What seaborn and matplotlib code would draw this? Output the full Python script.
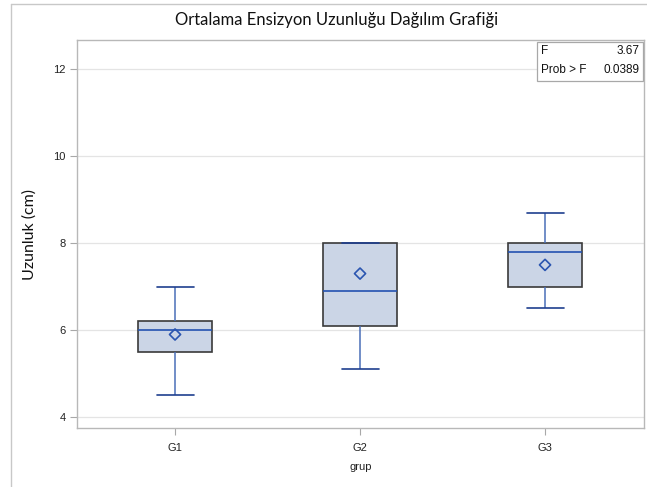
import numpy as np
import pandas as pd
import matplotlib
matplotlib.use("Agg")
import matplotlib.pyplot as plt
import seaborn as sns
from matplotlib.lines import Line2D
from matplotlib.patches import Rectangle

# ---- data ----
groups = ["G1", "G2", "G3"]
mins = [4.5, 5.1, 6.5]
q1s = [5.5, 6.1, 7.0]
medians = [6.0, 6.9, 7.8]
q3s = [6.2, 8.0, 8.0]
maxs = [7.0, 8.0, 8.7]
means = [5.9, 7.3, 7.5]
yticks = [4, 6, 8, 10, 12]
f_label = "F"
f_value = "3.67"
p_label = "Prob > F"
p_value = "0.0389"
title = "Ortalama Ensizyon Uzunluğu Dağılım Grafiği"
ylabel = "Uzunluk (cm)"
xlabel = "grup"

rows = []
for g, a, b, c, d, e in zip(groups, mins, q1s, medians, q3s, maxs):
    for v in (a, b, c, d, e):
        rows.append((g, v))
df = pd.DataFrame(rows, columns=["grup", "Uzunluk"])

sns.set_theme(style="white")
plt.rcParams["font.family"] = ["Liberation Sans", "DejaVu Sans"]

W, H = 647, 487
fig = plt.figure(figsize=(W / 100, H / 100), dpi=100)
ax = fig.add_axes([77 / W, 1 - 428 / H, (644 - 77) / W, (428 - 40) / H])

sns.boxplot(
    data=df, x="grup", y="Uzunluk", order=groups, whis=(0, 100), width=0.4,
    color="#CBD5E6", saturation=1, showfliers=False, ax=ax,
    linecolor="#3a3a3a", linewidth=1.1,
    boxprops=dict(edgecolor="#3a3a3a", linewidth=1.2),
    whiskerprops=dict(color="#4a6fb8", linewidth=1.1),
    capprops=dict(color="#1f3f8f", linewidth=1.2),
    medianprops=dict(color="#2452b0", linewidth=1.2, zorder=5),
)

ax.scatter(range(len(groups)), means, marker="D", s=32, facecolors="none",
           edgecolors="#2a55b0", linewidths=1.2, zorder=6)

ax.set_xlim(-0.53, 2.535)
ax.set_ylim(3.75, 12.67)
ax.set_yticks(yticks)
ax.set_yticklabels([str(t) for t in yticks])
ax.yaxis.grid(True, color="#e4e4e4", linewidth=0.9)
ax.xaxis.grid(False)
ax.set_axisbelow(True)
for s in ax.spines.values():
    s.set_color("#b8b8b8")
    s.set_linewidth(1.0)
ax.tick_params(axis="both", bottom=True, left=True, length=5, width=0.8,
               color="#a8a8a8", labelsize=8, labelcolor="#222222", pad=3)
ax.tick_params(axis="x", pad=6)

ax.set_ylabel(ylabel, family=["Lato", "DejaVu Sans"], fontsize=11.5, color="#111111")
ax.yaxis.set_label_coords((30 - 77) / 567, 0.5)
ax.yaxis.label.set_va("center")
ax.set_xlabel(xlabel, fontsize=8, color="#222222")
ax.xaxis.set_label_coords(0.5, (428 - 467) / 388)
ax.xaxis.label.set_va("center")

fig.text(337 / W, 1 - 20 / H, title, ha="center", va="center",
         family=["Lato", "DejaVu Sans"], fontsize=12, color="#111111")

# stats inset box
fig.add_artist(Rectangle((537 / W, 1 - 81 / H), (643 - 537) / W, (81 - 42) / H,
                         transform=fig.transFigure, facecolor="white",
                         edgecolor="#a8a8a8", linewidth=0.9, zorder=10))
for lab, val, yy in ((f_label, f_value, 51), (p_label, p_value, 70)):
    fig.text(541 / W, 1 - yy / H, lab, ha="left", va="center", fontsize=8.5,
             color="#111111", zorder=11)
    fig.text(640 / W, 1 - yy / H, val, ha="right", va="center", fontsize=8.5,
             color="#111111", zorder=11)

# outer border
fig.add_artist(Line2D([11 / W, 11 / W], [0, 1 - 4 / H], transform=fig.transFigure,
                      color="#c8c8c8", linewidth=1))
fig.add_artist(Line2D([11 / W, 1], [1 - 4 / H, 1 - 4 / H], transform=fig.transFigure,
                      color="#c8c8c8", linewidth=1))

fig.savefig("out.png", dpi=100)
